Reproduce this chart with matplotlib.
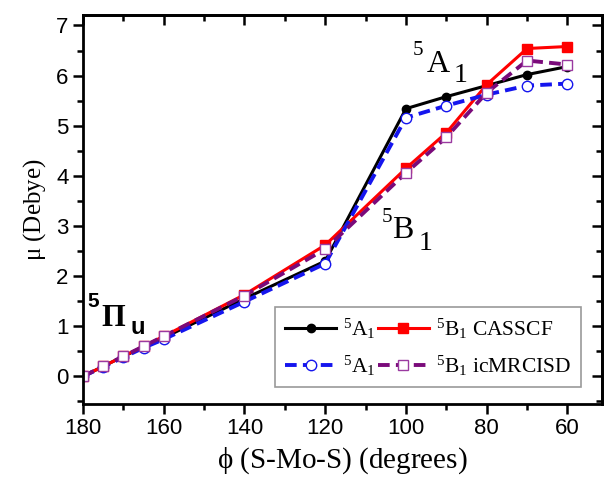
#!/usr/bin/env python3
import numpy as np
import matplotlib
matplotlib.use('Agg')
import matplotlib.pyplot as plt
from matplotlib.ticker import MultipleLocator

plt.rcParams['mathtext.fontset'] = 'custom'
plt.rcParams['mathtext.rm'] = 'Liberation Serif'
plt.rcParams['mathtext.it'] = 'Liberation Serif:italic'
plt.rcParams['mathtext.bf'] = 'Liberation Sans:bold'

# bending angle phi (S-Mo-S), degrees
phi = [180, 175, 170, 165, 160, 140, 120, 100, 90, 80, 70, 60]

# dipole moment (Debye)
a1_casscf = [0.0, 0.2, 0.4, 0.58, 0.77, 1.55, 2.3, 5.34, 5.58, 5.8, 6.02, 6.18]
b1_casscf = [0.0, 0.2, 0.4, 0.6, 0.8, 1.63, 2.62, 4.15, 4.86, 5.82, 6.54, 6.58]
a1_mrci = [0.0, 0.19, 0.38, 0.57, 0.74, 1.49, 2.25, 5.16, 5.4, 5.62, 5.8, 5.84]
b1_mrci = [0.0, 0.2, 0.4, 0.6, 0.8, 1.61, 2.54, 4.06, 4.77, 5.66, 6.3, 6.22]

fig = plt.figure(figsize=(6.06, 4.82), dpi=100)
ax = fig.add_axes([0.137, 0.162, 0.856, 0.806])

l1, = ax.plot(phi, a1_casscf, color='black', lw=2.2, marker='o', ms=6,
              label=r'$^5\mathrm{A}_1$')
l2, = ax.plot(phi, b1_casscf, color='red', lw=2.2, marker='s', ms=6.5,
              label=r'$^5\mathrm{B}_1$ CASSCF')
l3, = ax.plot(phi, a1_mrci, color='#1515ee', lw=2.8, ls=(0, (3, 1.6)),
              marker='o', ms=7.5, mfc='white', mec='#1515ee', mew=1.0,
              label=r'$^5\mathrm{A}_1$')
l4, = ax.plot(phi, b1_mrci, color='#7a0a7a', lw=2.8, ls=(0, (3, 1.6)),
              marker='s', ms=7, mfc='white', mec='#9a3aa0', mew=1.0,
              label=r'$^5\mathrm{B}_1$ icMRCISD')

ax.set_xlim(180, 51.5)
ax.set_ylim(-0.55, 7.2)
ax.xaxis.set_major_locator(MultipleLocator(20))
ax.xaxis.set_minor_locator(MultipleLocator(10))
ax.yaxis.set_major_locator(MultipleLocator(1))
ax.yaxis.set_minor_locator(MultipleLocator(0.5))
ax.tick_params(which='both', direction='out', width=1.8,
               labelsize=16, labelfontfamily='Liberation Sans')
ax.tick_params(which='major', length=7)
ax.tick_params(which='minor', length=4)
for s in ax.spines.values():
    s.set_linewidth(2.0)

# mirrored ticks pointing inward on top and right
top = ax.secondary_xaxis('top')
top.xaxis.set_major_locator(MultipleLocator(20))
top.xaxis.set_minor_locator(MultipleLocator(10))
top.tick_params(which='both', direction='in', width=1.8, labeltop=False)
top.tick_params(which='major', length=7)
top.tick_params(which='minor', length=4)
top.spines['top'].set_linewidth(2.0)
right = ax.secondary_yaxis('right')
right.yaxis.set_major_locator(MultipleLocator(1))
right.yaxis.set_minor_locator(MultipleLocator(0.5))
right.tick_params(which='both', direction='in', width=1.8, labelright=False)
right.tick_params(which='major', length=7)
right.tick_params(which='minor', length=4)
right.spines['right'].set_linewidth(2.0)

ax.set_xlabel(r'$\mathrm{\phi}$ (S-Mo-S) (degrees)', family='Liberation Serif',
              fontsize=21, labelpad=4)
ax.set_ylabel(r'$\mathrm{\mu}$ (Debye)', family='Liberation Serif',
              fontsize=18, labelpad=6)

# state labels: superscript, symbol, subscript placed as separate pieces
serif = 'Liberation Serif'
ax.text(98.3, 6.42, '5', fontsize=15, family=serif, va='baseline')
ax.text(94.8, 6.08, 'A', fontsize=23, family=serif, va='baseline')
ax.text(88.2, 5.88, '1', fontsize=20, family=serif, va='baseline')

ax.text(106.0, 3.08, '5', fontsize=15, family=serif, va='baseline')
ax.text(103.5, 2.76, 'B', fontsize=23, family=serif, va='baseline')
ax.text(96.8, 2.52, '1', fontsize=20, family=serif, va='baseline')

ax.text(178.8, 1.38, '5', fontsize=15, family='Liberation Sans',
        weight='bold', va='baseline')
ax.text(175.5, 1.0, 'Π', fontsize=22, family=serif, weight='bold',
        va='baseline')
ax.text(168.2, 0.84, 'u', fontsize=17, family='Liberation Sans',
        weight='bold', va='baseline')

leg = ax.legend(handles=[l1, l3, l2, l4], ncol=2, loc='lower right',
                bbox_to_anchor=(0.98, 0.015), fancybox=False,
                prop={'family': serif, 'size': 15.5},
                handlelength=2.4, handletextpad=0.3, columnspacing=0.1,
                labelspacing=0.6, borderpad=0.45)
leg.get_frame().set_edgecolor('#808080')
leg.get_frame().set_linewidth(1.2)

fig.savefig('out.png', dpi=100)
